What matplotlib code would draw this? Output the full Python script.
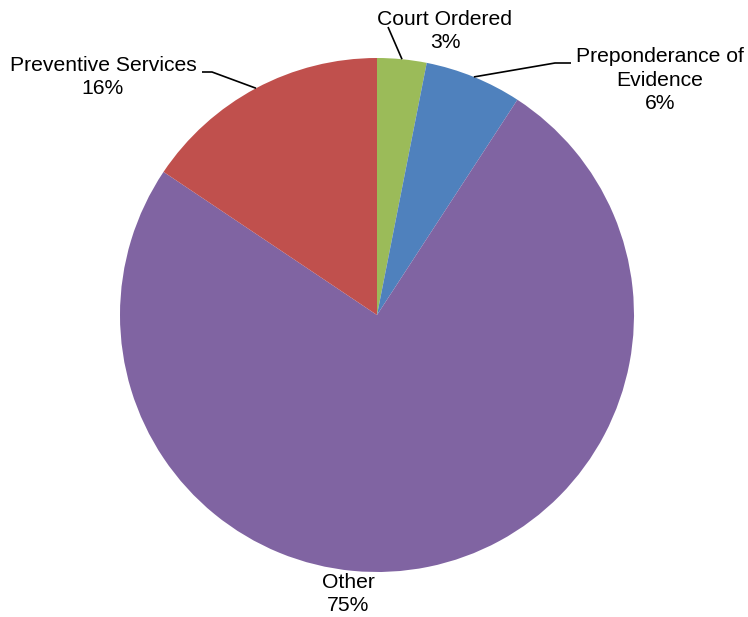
import numpy as np
import matplotlib
matplotlib.use("Agg")
import matplotlib.pyplot as plt

categories = ["Court Ordered", "Preponderance of\nEvidence", "Other", "Preventive Services"]
values = [3.1, 6.1, 75.2, 15.6]
pct_labels = ["3%", "6%", "75%", "16%"]
colors = ["#9BBB59", "#4F81BD", "#8064A2", "#C0504D"]

W, H = 748, 617
fig = plt.figure(figsize=(W / 100, H / 100), dpi=100)
ax = fig.add_axes([0, 0, 1, 1])

cx, cy, r = 377, H - 315, 257
wedges, _ = ax.pie(values, colors=colors, startangle=90, counterclock=False,
                   center=(cx, cy), radius=r, wedgeprops=dict(linewidth=0),
                   frame=True)
ax.set_xlim(0, W)
ax.set_ylim(0, H)
ax.set_aspect("equal")
ax.axis("off")

plt.rcParams["font.family"] = ["Liberation Sans", "DejaVu Sans"]
fs = 15.2

def edge_point(w):
    a = np.deg2rad((w.theta1 + w.theta2) / 2)
    return cx + r * np.cos(a), cy + r * np.sin(a)

# label text positions (pixel coords, y from top) and leader line bends
label_pos = [(445, 31), (660, 80), (348, 594), (103, 77)]
leaders = [
    [(388, 27)],
    [(555, 63), (571, 63)],
    None,
    [(212, 72), (202, 72)],
]

for w, cat, pct, (tx, ty), lead in zip(wedges, categories, pct_labels, label_pos, leaders):
    ax.text(tx, H - ty, cat + "\n" + pct, ha="center", va="center",
            fontsize=fs, family=["Liberation Sans", "DejaVu Sans"],
            linespacing=1.33, color="black")
    if lead:
        ex, ey = edge_point(w)
        xs = [ex] + [p[0] for p in lead]
        ys = [ey] + [H - p[1] for p in lead]
        ax.plot(xs, ys, color="black", lw=1.2, solid_capstyle="butt")

fig.savefig("out.png", dpi=100)
